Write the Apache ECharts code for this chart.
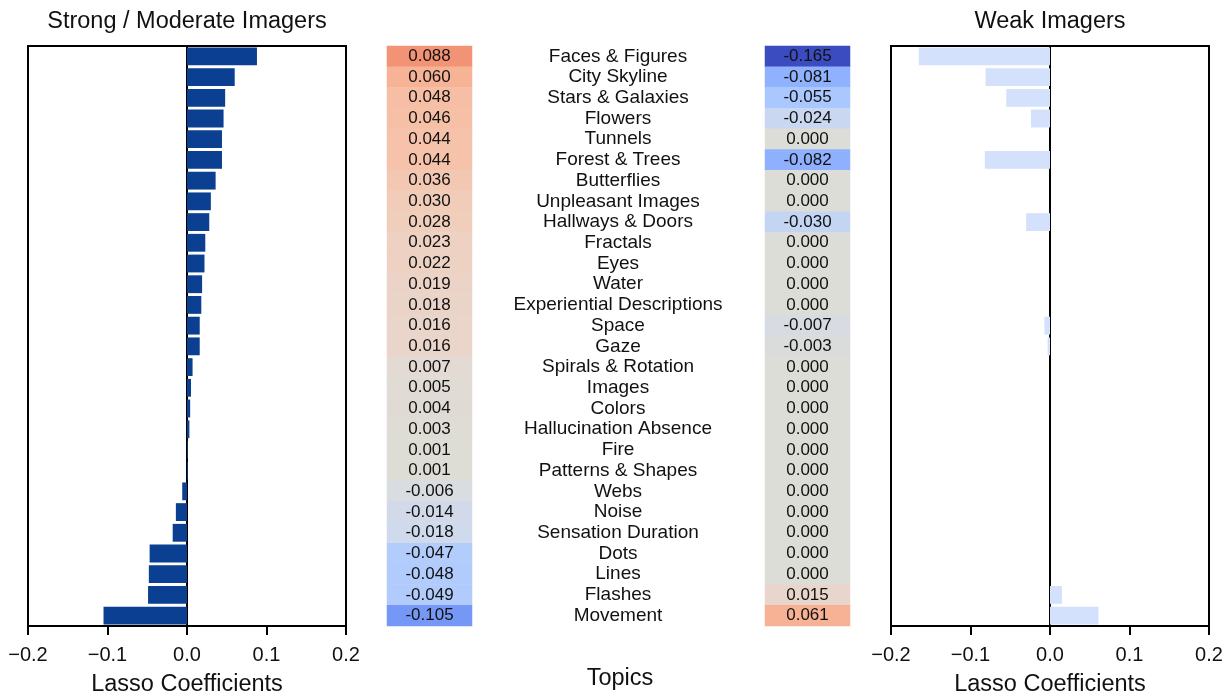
<!DOCTYPE html>
<html>
<head>
<meta charset="utf-8">
<script src="https://cdn.jsdelivr.net/npm/echarts@6/dist/echarts.min.js"></script>
<style>
  html, body { margin: 0; padding: 0; background: #fff; }
  #chart { width: 1231px; height: 696px; }
</style>
</head>
<body>
<div id="chart"></div>
<script>
// topics, top to bottom
const topics = [
  'Faces & Figures', 'City Skyline', 'Stars & Galaxies', 'Flowers', 'Tunnels',
  'Forest & Trees', 'Butterflies', 'Unpleasant Images', 'Hallways & Doors', 'Fractals',
  'Eyes', 'Water', 'Experiential Descriptions', 'Space', 'Gaze',
  'Spirals & Rotation', 'Images', 'Colors', 'Hallucination Absence', 'Fire',
  'Patterns & Shapes', 'Webs', 'Noise', 'Sensation Duration', 'Dots',
  'Lines', 'Flashes', 'Movement'
]
// lasso coefficients, strong / moderate imagers
const strongCoef = [
  0.088, 0.060, 0.048, 0.046, 0.044, 0.044, 0.036, 0.030, 0.028, 0.023,
  0.022, 0.019, 0.018, 0.016, 0.016, 0.007, 0.005, 0.004, 0.003, 0.001,
  0.001, -0.006, -0.014, -0.018, -0.047, -0.048, -0.049, -0.105
]
// lasso coefficients, weak imagers
const weakCoef = [
  -0.165, -0.081, -0.055, -0.024, 0.000, -0.082, 0.000, 0.000, -0.030, 0.000,
  0.000, 0.000, 0.000, -0.007, -0.003, 0.000, 0.000, 0.000, 0.000, 0.000,
  0.000, 0.000, 0.000, 0.000, 0.000, 0.000, 0.015, 0.061
]
const xTicks = [-0.2, -0.1, 0.0, 0.1, 0.2]

// coolwarm-like stops (neutral slightly greenish grey)
const coolwarm = [
  '#3b4cc0', '#445acc', '#4d68d7', '#5775e1', '#6282ea', '#6c8ef1', '#779af7', '#82a5fb',
  '#8db0fe', '#98b9ff', '#a3c2ff', '#aec9fd', '#b8d0f9', '#c2d5f4', '#ccd9ee', '#d6dbe8',
  '#dcddd6', '#e5d8d1', '#ecd3c5', '#f1ccb8', '#f5c4ad', '#f7bba0', '#f7b194', '#f7a687',
  '#f49a7b', '#f18d6f', '#ec7f63', '#e57058', '#de604d', '#d55042', '#cb3e38', '#c0282f',
  '#b40426'
]

const chart = echarts.init(document.getElementById('chart'))
const font = 'Liberation Sans, Arial, sans-serif'
const fmtTick = v => (v < 0 ? '\u2212' : '') + Math.abs(v).toFixed(1)

const valueAxis = gridIndex => ({
  type: 'value', gridIndex: gridIndex,
  min: xTicks[0], max: xTicks[xTicks.length - 1], interval: 0.1,
  name: 'Lasso Coefficients', nameLocation: 'middle', nameGap: 47,
  nameTextStyle: { fontSize: 23.5, color: '#111', fontFamily: font },
  axisLine: { show: true, lineStyle: { color: '#000', width: 2 } },
  axisTick: { show: true, length: 9, lineStyle: { color: '#000', width: 2 } },
  axisLabel: { fontSize: 20, color: '#111', fontFamily: font, margin: 19, formatter: fmtTick },
  splitLine: { show: false }
})
const catAxis = gridIndex => ({
  type: 'category', gridIndex: gridIndex, data: topics, inverse: true,
  axisLine: { show: true, onZero: true, lineStyle: { color: '#000', width: 2 } },
  axisTick: { show: false }, axisLabel: { show: false }
})
const heatX = gridIndex => ({
  type: 'category', gridIndex: gridIndex, data: ['c'], show: false
})
const heatY = (gridIndex, showLabels) => ({
  type: 'category', gridIndex: gridIndex, data: topics, inverse: true,
  position: 'right',
  axisLine: { show: false }, axisTick: { show: false },
  axisLabel: {
    show: showLabels, interval: 0, align: 'center', margin: 146,
    fontSize: 19, color: '#111', fontFamily: font
  }
})

const gridBase = { top: 46, height: 580, outerBoundsMode: 'none', containLabel: false }
const option = {
  animation: false,
  grid: [
    Object.assign({ left: 28, width: 318, show: true, borderColor: '#000', borderWidth: 2 }, gridBase),
    Object.assign({ left: 387, width: 85 }, gridBase),
    Object.assign({ left: 765, width: 85 }, gridBase),
    Object.assign({ left: 891, width: 318, show: true, borderColor: '#000', borderWidth: 2 }, gridBase)
  ],
  xAxis: [valueAxis(0), heatX(1), heatX(2), valueAxis(3)],
  yAxis: [catAxis(0), heatY(1, true), heatY(2, false), catAxis(3)],
  visualMap: {
    show: false, seriesIndex: [1, 2], min: -0.165, max: 0.165,
    inRange: { color: coolwarm }
  },
  graphic: [
    { type: 'text', x: 187, y: 10, style: { text: 'Strong / Moderate Imagers', font: '23.5px ' + font, fill: '#111', textAlign: 'center' } },
    { type: 'text', x: 1050, y: 10, style: { text: 'Weak Imagers', font: '23.5px ' + font, fill: '#111', textAlign: 'center' } },
    { type: 'text', x: 620, y: 667, style: { text: 'Topics', font: '23.5px ' + font, fill: '#111', textAlign: 'center' } }
  ],
  series: [
    {
      type: 'bar', xAxisIndex: 0, yAxisIndex: 0, data: strongCoef,
      barWidth: '86%', itemStyle: { color: '#0a3f91' }
    },
    {
      type: 'heatmap', xAxisIndex: 1, yAxisIndex: 1,
      data: strongCoef.map((v, i) => [0, i, v]),
      label: { show: true, fontSize: 17, color: '#111', fontFamily: font, formatter: p => p.value[2].toFixed(3) }
    },
    {
      type: 'heatmap', xAxisIndex: 2, yAxisIndex: 2,
      data: weakCoef.map((v, i) => [0, i, v]),
      label: { show: true, fontSize: 17, color: '#111', fontFamily: font, formatter: p => p.value[2].toFixed(3) }
    },
    {
      type: 'bar', xAxisIndex: 3, yAxisIndex: 3, data: weakCoef,
      barWidth: '86%', itemStyle: { color: '#d3e1fc' }
    }
  ]
}
chart.setOption(option)
</script>
</body>
</html>
